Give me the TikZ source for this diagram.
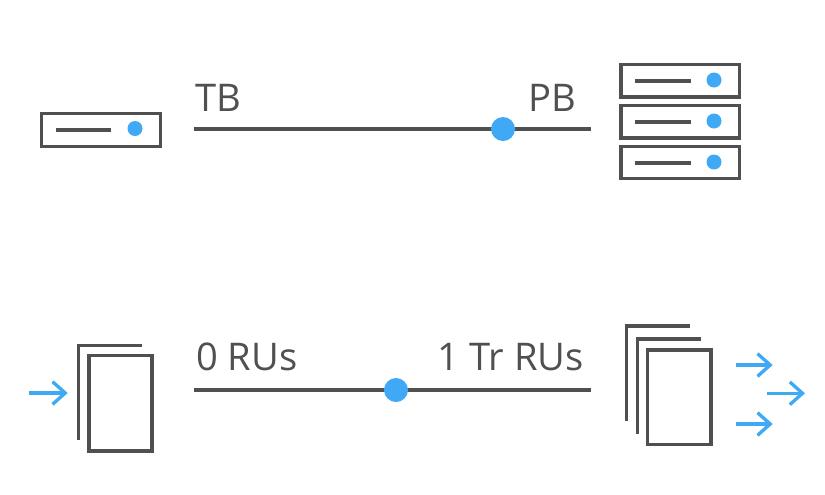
\documentclass[tikz,border=0pt]{standalone}
\usepackage{fontspec}
\setmainfont{Open Sans}
\usetikzlibrary{arrows.meta}
\definecolor{darkline}{HTML}{505050}
\definecolor{bluedot}{HTML}{3FA9F5}
\begin{document}
\begin{tikzpicture}[x=0.75pt, y=-0.75pt,
    every node/.style={font=\fontsize{28.6}{32}\selectfont, text=darkline, inner sep=0pt},
    box/.style={draw=darkline, line width=2.4pt, fill=white},
    sheet/.style={draw=darkline, line width=2.5pt, line cap=butt},
    scaleline/.style={draw=darkline, line width=2.8pt},
    slit/.style={draw=darkline, line width=2.3pt},
    led/.style={circle, fill=bluedot, minimum size=11.25pt},
    knob/.style={circle, fill=bluedot, minimum size=18pt},
    flow/.style={draw=bluedot, line width=2.5pt, -{Straight Barb[length=9.5pt,width=17pt,line width=2.5pt]}}]
  \useasboundingbox (0,0) rectangle (825,494);

  % small server
  \draw[box] (41.5,113.5) rectangle (160.5,146.5);
  \draw[slit] (56,130) -- (111,130);
  \node[led] (smallled) at (135,128.5) {};

  % server stack
  \foreach \top/\bottom/\name in {64.5/97/a, 105.5/138/b, 146.5/178.5/c} {
    \draw[box] (621,\top) rectangle (739.5,\bottom);
    \draw[slit] (635,\top+16.5) -- (691,\top+16.5);
    \node[led] (led\name) at (714,\top+15.5) {};
  }

  % storage scale
  \coordinate (tbend) at (193.5,129);
  \coordinate (pbend) at (590.5,129);
  \draw[scaleline] (tbend) -- (pbend);
  \node[knob] (tbknob) at (503,129) {};
  \node[anchor=base west] (tblabel) at (195,111) {TB};
  \node[anchor=base east] (pblabel) at (576,111) {PB};

  % single document
  \draw[sheet] (78.7,440) -- (78.7,345.5) -- (142,345.5);
  \draw[box] (89,355.5) rectangle (152,451);
  \coordinate (inL) at (29.3,393);
  \coordinate (inR) at (67.7,393);
  \draw[flow] (inL) -- (inR);

  % throughput scale
  \coordinate (ruend) at (193.5,390);
  \coordinate (trend) at (590.5,390);
  \draw[scaleline] (ruend) -- (trend);
  \node[knob] (ruknob) at (396,390) {};
  \node[anchor=base west] (rulabel) at (196,370) {0 RUs};
  \node[anchor=base east] (trlabel) at (584,370) {1 Tr RUs};

  % document pile
  \draw[sheet] (626.7,421) -- (626.7,326) -- (690,326);
  \draw[sheet] (637.7,434) -- (637.7,339) -- (701,339);
  \draw[box] (647.5,350) rectangle (711,444.5);

  % outgoing arrows
  \foreach \xa/\xb/\ya/\name in {735.7/772.7/365/a, 767/805/393.3/b, 735.7/772.7/424/c} {
    \coordinate (out\name L) at (\xa,\ya);
    \coordinate (out\name R) at (\xb,\ya);
    \draw[flow] (out\name L) -- (out\name R);
  }
\end{tikzpicture}
\end{document}
